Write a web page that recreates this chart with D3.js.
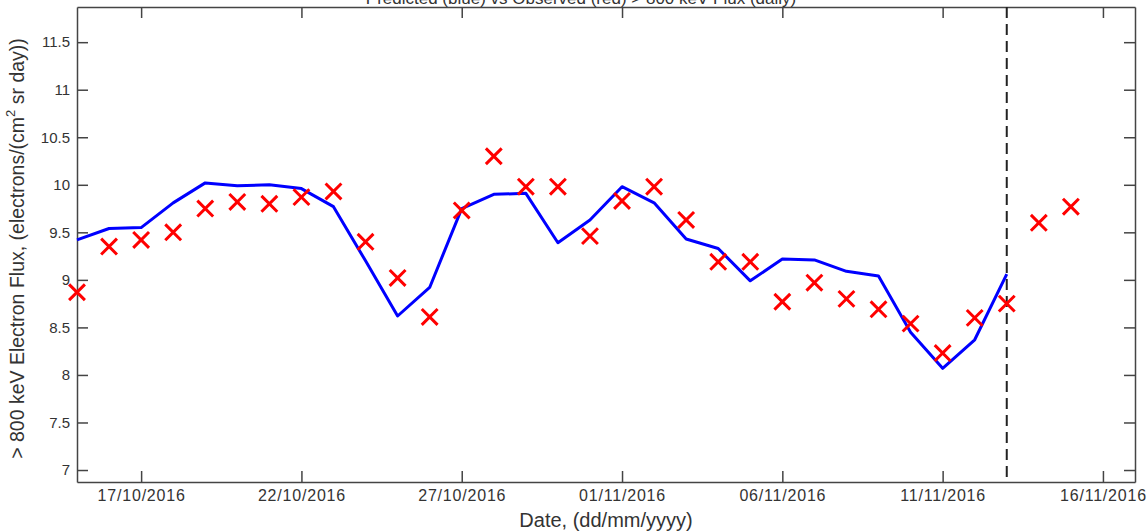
<!DOCTYPE html>
<html>
<head>
<meta charset="utf-8">
<script src="https://cdn.jsdelivr.net/npm/d3@7"></script>
<style>
  body { margin: 0; background: #fff; }
  text { font-family: "Liberation Sans", Arial, sans-serif; fill: #333; }
</style>
</head>
<body>
<div id="chart"></div>
<script>
// dates (dd/mm/yyyy) of the observed points
var obsDates = ["15/10/2016", "16/10/2016", "17/10/2016", "18/10/2016", "19/10/2016", "20/10/2016",
  "21/10/2016", "22/10/2016", "23/10/2016", "24/10/2016", "25/10/2016", "26/10/2016",
  "27/10/2016", "28/10/2016", "29/10/2016", "30/10/2016", "31/10/2016", "01/11/2016",
  "02/11/2016", "03/11/2016", "04/11/2016", "05/11/2016", "06/11/2016", "07/11/2016",
  "08/11/2016", "09/11/2016", "10/11/2016", "11/11/2016", "12/11/2016", "13/11/2016",
  "14/11/2016", "15/11/2016"];

// observed flux (red crosses)
var observed = [8.87, 9.35, 9.42, 9.50, 9.75, 9.82, 9.80, 9.87, 9.93, 9.40, 9.02, 8.61,
  9.73, 10.30, 9.98, 9.98, 9.46, 9.83, 9.98, 9.63, 9.19, 9.19, 8.77, 8.97,
  8.80, 8.69, 8.54, 8.23, 8.60, 8.75, 9.60, 9.77];

// model flux (blue line), 15/10 to 13/11
var predDates = obsDates.slice(0, 30);
var predicted = [9.42, 9.54, 9.55, 9.81, 10.02, 9.99, 10.00, 9.96, 9.77, 9.20, 8.62, 8.92,
  9.75, 9.90, 9.91, 9.39, 9.63, 9.98, 9.81, 9.43, 9.33, 8.99, 9.22, 9.21,
  9.09, 9.04, 8.45, 8.07, 8.37, 9.06];

var xTickLabels = ["17/10/2016", "22/10/2016", "27/10/2016", "01/11/2016", "06/11/2016", "11/11/2016", "16/11/2016"];
var yTicks = [7, 7.5, 8, 8.5, 9, 9.5, 10, 10.5, 11, 11.5];
var xRange = ["15/10/2016", "17/11/2016"];
var yRange = [6.874, 11.87];
var cutDate = "13/11/2016";

var svgWidth = 1148;
var svgHeight = 532;
var margin = { top: 7, right: 13, bottom: 50, left: 77 };
var width = svgWidth - margin.left - margin.right;
var height = svgHeight - margin.top - margin.bottom;

var parse = d3.timeParse("%d/%m/%Y");

var svg = d3.select("#chart")
  .append("svg")
  .attr("width", svgWidth)
  .attr("height", svgHeight);

var chartGroup = svg.append("g")
  .attr("transform", `translate(${margin.left}, ${margin.top})`);

var x = d3.scaleTime()
  .domain(xRange.map(parse))
  .range([0, width]);

var y = d3.scaleLinear()
  .domain(yRange)
  .range([height, 0]);

var axisColor = "#444";
var tickLen = 11;

// axes (ticks point inward, box on all sides)
var bottomAxis = d3.axisBottom(x)
  .tickValues(xTickLabels.map(parse))
  .tickFormat(d3.timeFormat("%d/%m/%Y"))
  .tickSizeInner(-tickLen).tickSizeOuter(0).tickPadding(8);
var topAxis = d3.axisTop(x)
  .tickValues(xTickLabels.map(parse))
  .tickFormat("")
  .tickSizeInner(-tickLen).tickSizeOuter(0);
var leftAxis = d3.axisLeft(y)
  .tickValues(yTicks)
  .tickFormat(d3.format("~g"))
  .tickSizeInner(-tickLen).tickSizeOuter(0).tickPadding(7);
var rightAxis = d3.axisRight(y)
  .tickValues(yTicks)
  .tickFormat("")
  .tickSizeInner(-tickLen).tickSizeOuter(0);

var gb = chartGroup.append("g").attr("transform", `translate(0, ${height})`).call(bottomAxis);
var gt = chartGroup.append("g").call(topAxis);
var gl = chartGroup.append("g").call(leftAxis);
var gr = chartGroup.append("g").attr("transform", `translate(${width}, 0)`).call(rightAxis);

[gb, gt, gl, gr].forEach(function (g) {
  g.selectAll("path, line").attr("stroke", axisColor).attr("stroke-width", 1.5);
  g.selectAll("text").style("font-size", "15px").style("fill", "#333")
    .style("font-family", "'Liberation Sans', Arial, sans-serif");
});
gb.selectAll("text").style("font-size", "16px").style("letter-spacing", "0.8px");

// vertical dashed line at forecast start
chartGroup.append("line")
  .attr("x1", x(parse(cutDate)))
  .attr("x2", x(parse(cutDate)))
  .attr("y1", 0)
  .attr("y2", height)
  .attr("stroke", "#222")
  .attr("stroke-width", 2)
  .attr("stroke-dasharray", "11,6");

// model line
var lineData = predDates.map((d, i) => ({ date: parse(d), v: predicted[i] }));
var line = d3.line()
  .x(d => x(d.date))
  .y(d => y(d.v));

chartGroup.append("path")
  .datum(lineData)
  .attr("d", line)
  .attr("fill", "none")
  .attr("stroke", "#0000ff")
  .attr("stroke-width", 3)
  .attr("stroke-linejoin", "round");

// observed crosses
var obsData = obsDates.map((d, i) => ({ date: parse(d), v: observed[i] }));
var cross = d3.symbol().type(d3.symbolTimes).size(165);

chartGroup.selectAll(".obs")
  .data(obsData)
  .enter()
  .append("path")
  .attr("class", "obs")
  .attr("transform", d => `translate(${x(d.date)}, ${y(d.v)})`)
  .attr("d", cross)
  .attr("fill", "none")
  .attr("stroke", "#ff0000")
  .attr("stroke-width", 3);

// axis labels
chartGroup.append("text")
  .attr("transform", "rotate(-90)")
  .attr("x", -height / 2 - 4)
  .attr("y", -margin.left + 24)
  .attr("text-anchor", "middle")
  .style("font-size", "19.5px")
  .html("&gt; 800 keV Electron Flux, (electrons/(cm<tspan dy='-9' font-size='13px'>2</tspan><tspan dy='9'> sr day))</tspan>");

chartGroup.append("text")
  .attr("x", width / 2)
  .attr("y", height + 45)
  .attr("text-anchor", "middle")
  .style("font-size", "20px")
  .text("Date, (dd/mm/yyyy)");

// title, mostly cut off at the top of the picture
svg.append("text")
  .attr("x", margin.left + width / 2 - 25)
  .attr("y", 4)
  .attr("text-anchor", "middle")
  .style("font-size", "17px")
  .text("Predicted (blue) vs Observed (red) > 800 keV Flux (daily)");
</script>
</body>
</html>
